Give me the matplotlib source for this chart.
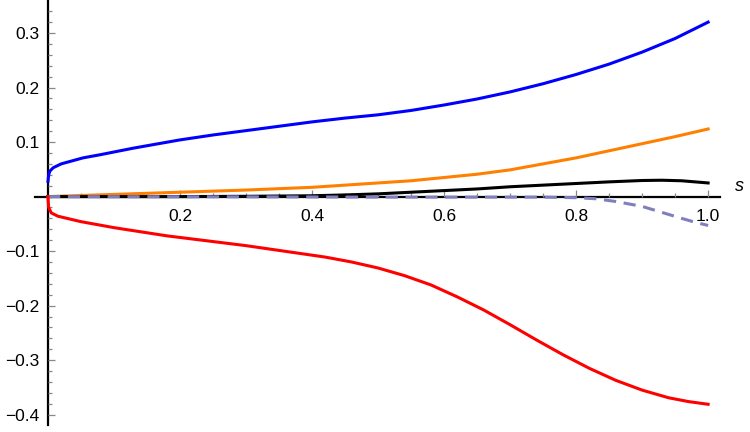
import numpy as np
import matplotlib.pyplot as plt

plt.rcParams['font.family'] = ['Liberation Sans', 'DejaVu Sans']

# curves
s_blue = [0, 0.001, 0.003, 0.008, 0.02, 0.053, 0.08, 0.13, 0.2, 0.25, 0.3, 0.35, 0.4, 0.45, 0.5,
          0.55, 0.6, 0.65, 0.7, 0.75, 0.8, 0.85, 0.9, 0.95, 1.0]
blue = [0.028, 0.04, 0.047, 0.053, 0.06, 0.071, 0.077, 0.089, 0.104, 0.113, 0.121, 0.129, 0.137, 0.144, 0.15,
        0.158, 0.168, 0.179, 0.192, 0.207, 0.224, 0.243, 0.265, 0.29, 0.32]

s_orange = [0, 0.1, 0.2, 0.3, 0.4, 0.45, 0.5, 0.55, 0.6, 0.65, 0.7, 0.75, 0.8, 0.85, 0.9, 0.95, 1.0]
orange = [0.0, 0.004, 0.008, 0.012, 0.017, 0.021, 0.025, 0.029, 0.035, 0.041, 0.049, 0.06, 0.071, 0.084, 0.097, 0.11, 0.124]

s_black = [0, 0.2, 0.3, 0.4, 0.45, 0.5, 0.55, 0.6, 0.65, 0.7, 0.75, 0.8, 0.85, 0.9, 0.93, 0.96, 0.98, 1.0]
black = [0.0, 0.0, 0.0005, 0.0015, 0.003, 0.005, 0.008, 0.011, 0.014, 0.018, 0.021, 0.024, 0.027, 0.0295, 0.03, 0.029, 0.027, 0.025]

s_purple = [0, 0.3, 0.5, 0.65, 0.75, 0.8, 0.83, 0.86, 0.9, 0.93, 0.96, 0.98, 1.0]
purple = [0.0, -0.0005, -0.001, -0.001, -0.001, -0.002, -0.004, -0.009, -0.018, -0.029, -0.04, -0.047, -0.053]

s_red = [0, 0.0005, 0.001, 0.005, 0.015, 0.05, 0.1, 0.18, 0.3, 0.38, 0.42, 0.46, 0.5, 0.54, 0.58, 0.62, 0.66,
         0.7, 0.74, 0.78, 0.82, 0.86, 0.9, 0.94, 0.97, 1.0]
red = [0.0, -0.012, -0.02, -0.03, -0.036, -0.046, -0.057, -0.072, -0.09, -0.104, -0.111, -0.12, -0.131, -0.145,
       -0.162, -0.184, -0.208, -0.235, -0.263, -0.29, -0.315, -0.337, -0.355, -0.369, -0.376, -0.381]

xticks = [0.2, 0.4, 0.6, 0.8, 1.0]
yticks = [-0.4, -0.3, -0.2, -0.1, 0.1, 0.2, 0.3]

fig = plt.figure(figsize=(7.5, 4.32), dpi=100)
ax = fig.add_axes([35 / 750, 7 / 432, 685 / 750, 425 / 432])

lw = 2.2
ax.plot(s_blue, blue, color='#0000ff', lw=lw, zorder=3)
ax.plot(s_orange, orange, color='#ff8000', lw=lw, zorder=3)
ax.plot(s_black, black, color='black', lw=lw, zorder=3)
ax.plot(s_purple, purple, color='#7f7fbf', lw=lw, ls=(0, (4, 2.5)), zorder=3)
ax.plot(s_red, red, color='#ff0000', lw=lw, zorder=3)

ax.set_xlim(-0.0197, 1.018)
ax.set_ylim(-0.419, 0.3606)

for side in ['top', 'right']:
    ax.spines[side].set_visible(False)
for side in ['left', 'bottom']:
    ax.spines[side].set_position('zero')
    ax.spines[side].set_linewidth(1.6)
    ax.spines[side].set_zorder(1)

ax.set_xticks(xticks)
ax.set_xticklabels([f'{v:.1f}' for v in xticks])
ax.set_xticks(np.arange(0.05, 1.01, 0.05), minor=True)
ax.set_yticks(yticks)
ax.set_yticklabels([f'{v:.1f}'.replace('-', '\u2212') for v in yticks])
ax.set_yticks(np.arange(-0.40, 0.36, 0.02), minor=True)

ax.tick_params(axis='both', which='both', direction='in', color='#888888', width=0.9)
ax.tick_params(axis='both', which='major', length=5, labelsize=12.5)
ax.tick_params(axis='both', which='minor', length=3)
ax.tick_params(axis='x', which='major', pad=9)
ax.tick_params(axis='y', which='major', pad=6)

ax.text(1.048, 0.019, 's', fontsize=13, style='italic', ha='center', va='center', clip_on=False)

fig.savefig('out.png', dpi=100)
